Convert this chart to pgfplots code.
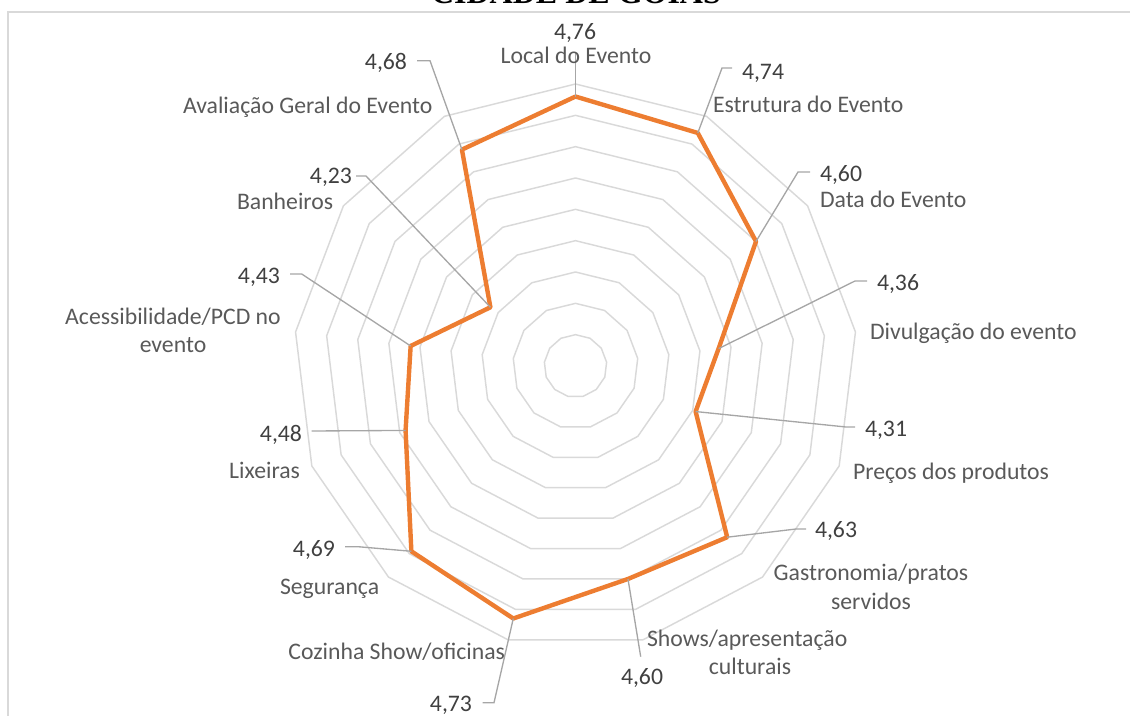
\documentclass[border=0pt]{standalone}
\usepackage{pgfplots}
\pgfplotsset{compat=1.18}
\usepackage{pgfplotstable}
\usepgfplotslibrary{polar}
\usepackage{fontspec}
\setmainfont{Carlito}
\newfontfamily\titlefont{Liberation Serif}
\definecolor{orng}{HTML}{ED7D31}
\definecolor{gridc}{HTML}{D9D9D9}
\definecolor{leadc}{HTML}{A6A6A6}
\definecolor{catc}{HTML}{595959}
\definecolor{valc}{HTML}{404040}
\newcommand\lab{\fontsize{17.8pt}{21pt}\selectfont}

% angle (degrees, counter-clockwise from east), value
\pgfplotstableread{
ang val
90.000 4.76
62.308 4.74
34.615 4.60
6.923 4.36
-20.769 4.31
-48.462 4.63
-76.154 4.60
-103.846 4.73
-131.538 4.69
-159.231 4.48
-186.923 4.43
-214.615 4.23
-242.308 4.68
-270.000 4.76
}\radar

\begin{document}
\begin{tikzpicture}
\useasboundingbox (0pt,0pt) rectangle (847.5pt,-537pt);
\begin{polaraxis}[
  at={(431.625pt,-274.5pt)}, anchor=center,
  scale only axis, width=423pt, height=423pt,
  ymin=0, ymax=0.9, hide axis, clip=false,
  y filter/.expression={y-3.9},
]
\pgfplotsinvokeforeach{4.0,4.1,4.2,4.3,4.4,4.5,4.6,4.7,4.8}{
  \addplot[gridc, line width=1.1pt, mark=none, line join=round] table[x=ang, y expr=#1]{\radar};
}
\addplot[orng, line width=3.3pt, mark=none, line join=round] table[x=ang, y=val]{\radar};
\coordinate (p0) at (axis cs:90.000,0.86);
\coordinate (p1) at (axis cs:62.308,0.84);
\coordinate (p2) at (axis cs:34.615,0.70);
\coordinate (p3) at (axis cs:6.923,0.46);
\coordinate (p4) at (axis cs:-20.769,0.41);
\coordinate (p5) at (axis cs:-48.462,0.73);
\coordinate (p6) at (axis cs:-76.154,0.70);
\coordinate (p7) at (axis cs:-103.846,0.83);
\coordinate (p8) at (axis cs:-131.538,0.79);
\coordinate (p9) at (axis cs:-159.231,0.58);
\coordinate (p10) at (axis cs:-186.923,0.53);
\coordinate (p11) at (axis cs:-214.615,0.33);
\coordinate (p12) at (axis cs:-242.308,0.78);
\end{polaraxis}
\begin{scope}[x=0.75pt,y=-0.75pt,
  every node/.style={inner sep=0pt, outer sep=0pt},
  val/.style={text=valc, font=\lab},
  cat/.style={text=catc, font=\lab}]
% frame
\draw[gridc, line width=1.2pt] (8,740) -- (8,12) -- (1140,12);
% title
\node[anchor=base, font=\titlefont\bfseries\fontsize{24pt}{28pt}\selectfont] at (576,4) {CIDADE DE GOIÁS};
% leader lines
\begin{scope}[leadc, line width=1pt]
\draw (p0) -- (575.5,52);
\draw (p1) -- (722,68) -- (732,68);
\draw (p2) -- (798,172) -- (810,172);
\draw (p3) -- (855,281) -- (867,281);
\draw (p4) -- (846,427) -- (855,427);
\draw (p5) -- (796,529) -- (806,529);
\draw (p6) -- (640.7,656.7);
\draw (p7) -- (494,702.7) -- (482.7,702.7);
\draw (p8) -- (358,546.7) -- (345,546.7);
\draw (p9) -- (311.7,431);
\draw (p10) -- (301.7,274) -- (290,274);
\draw (p11) -- (366,176) -- (356,176);
\draw (p12) -- (430,60.7) -- (417,60.7);
\end{scope}
% labels
\node[val, anchor=base] at (575,40) {4,76};
\node[cat, anchor=base] at (576,63.3) {Local do Evento};
\node[val, anchor=base west] at (742,80) {4,74};
\node[cat, anchor=base west] at (713,113) {Estrutura do Evento};
\node[val, anchor=base west] at (820,181.7) {4,60};
\node[cat, anchor=base west] at (820,208) {Data do Evento};
\node[val, anchor=base west] at (877,290.7) {4,36};
\node[cat, anchor=base west] at (870,339.3) {Divulgação do evento};
\node[val, anchor=base west] at (815,537) {4,63};
\node[val, anchor=base west] at (865,436.7) {4,31};
\node[cat, anchor=base west] at (853,479.3) {Preços dos produtos};
\node[cat, anchor=base] at (871,580) {Gastronomia/pratos};
\node[cat, anchor=base] at (871,609) {servidos};
\node[val, anchor=base] at (642,684) {4,60};
\node[cat, anchor=base west] at (647,646) {Shows/apresentação};
\node[cat, anchor=base] at (750,674) {culturais};
\node[val, anchor=base east] at (472,711.7) {4,73};
\node[cat, anchor=base east] at (505,659.3) {Cozinha Show/oficinas};
\node[val, anchor=base east] at (335,556) {4,69};
\node[cat, anchor=base west] at (280,594.3) {Segurança};
\node[val, anchor=base east] at (302,441) {4,48};
\node[cat, anchor=base east] at (300,478.3) {Lixeiras};
\node[val, anchor=base east] at (280,283.3) {4,43};
\node[cat, anchor=base] at (173,325) {Acessibilidade/PCD no};
\node[cat, anchor=base] at (173,352.7) {evento};
\node[val, anchor=base east] at (352,184) {4,23};
\node[cat, anchor=base west] at (237,210) {Banheiros};
\node[val, anchor=base east] at (407,70) {4,68};
\node[cat, anchor=base west] at (183,113.3) {Avaliação Geral do Evento};
\end{scope}
\end{tikzpicture}
\end{document}
